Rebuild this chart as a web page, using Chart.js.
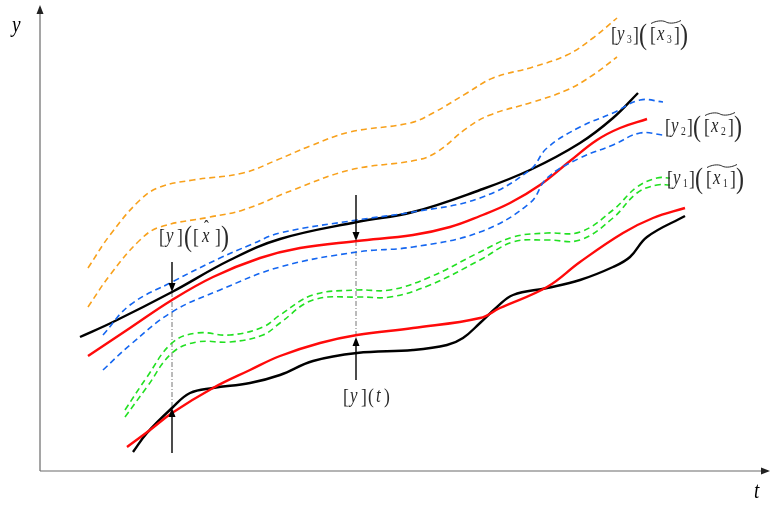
<!DOCTYPE html>
<html>
<head>
<meta charset="utf-8">
<script src="https://cdn.jsdelivr.net/npm/chart.js@4/dist/chart.umd.min.js"></script>
<style>
  html, body { margin: 0; padding: 0; background: #fff; }
  #wrap { width: 771px; height: 506px; position: relative; }
</style>
</head>
<body>
<div id="wrap"><canvas id="chart"></canvas></div>
<script>
// curve samples (t, y)
const tOrangeHi = [48, 70, 100, 120, 153, 203, 237, 270, 310, 370, 393, 427, 453, 493, 527, 553, 577];
const yOrangeHi = [203, 236, 271, 284, 291, 298, 311, 325, 339, 348, 358, 378, 393, 404, 416, 433, 453];
const tOrangeLo = [48, 70, 100, 120, 170, 203, 253, 310, 377, 397, 427, 450, 493, 527, 553, 577];
const yOrangeLo = [164, 196, 231, 244, 254, 261, 281, 301, 311, 319, 343, 356, 369, 381, 396, 414];

const tBlueHi = [63, 90, 132, 180, 210, 240, 317, 373, 440, 490, 507, 540, 573, 600, 623];
const yBlueHi = [136, 166, 189, 213, 226, 238, 251, 259, 273, 301, 323, 344, 358, 371, 369];
const tBlueLo = [63, 90, 132, 180, 240, 317, 373, 440, 490, 507, 540, 573, 600, 623];
const yBlueLo = [101, 126, 159, 181, 204, 219, 224, 239, 268, 293, 313, 326, 338, 336];

const tBlackHi = [40, 73, 132, 190, 240, 317, 373, 440, 490, 540, 573, 598];
const yBlackHi = [134, 149, 179, 211, 232, 249, 259, 281, 301, 328, 353, 378];
const tRedHi = [48, 90, 132, 173, 220, 260, 317, 373, 410, 440, 470, 500, 530, 557, 580, 607];
const yRedHi = [115, 143, 171, 194, 213, 223, 230, 236, 244, 255, 268, 286, 310, 331, 343, 352];

const tGreen = [85, 107, 132, 157, 190, 223, 240, 273, 317, 350, 390, 440, 473, 507, 540, 573, 597, 617, 630];
const yGreenHi = [61, 94, 128, 138, 136, 144, 156, 176, 181, 181, 194, 219, 234, 238, 239, 261, 284, 293, 293];
const yGreenLo = [54, 84, 118, 129, 129, 136, 148, 171, 174, 174, 186, 211, 229, 231, 231, 253, 278, 286, 286];

const tRedLo = [87, 110, 132, 173, 210, 240, 280, 317, 373, 440, 460, 507, 540, 583, 613, 645];
const yRedLo = [24, 41, 58, 83, 101, 115, 128, 136, 143, 153, 163, 184, 209, 238, 253, 263];
const tBlackLo = [93, 107, 132, 150, 173, 210, 240, 273, 317, 373, 407, 423, 440, 457, 473, 507, 540, 573, 590, 607, 645];
const yBlackLo = [19, 38, 63, 78, 83, 88, 96, 110, 118, 121, 126, 133, 148, 164, 176, 183, 191, 204, 214, 234, 255];

// guide marks: t position, top arrow start/tip, bottom arrow start/tip
const markT = [132, 316];
const markTopFrom = [209, 276];
const markTopTip = [179, 230];
const markLowFrom = [18, 91];
const markLowTip = [63, 134];

function pts(ts, ys) { return ts.map((t, i) => ({ x: t, y: ys[i] })); }

function curve(ts, ys, color, dashed) {
  return {
    data: pts(ts, ys),
    showLine: true,
    borderColor: color,
    borderWidth: dashed ? 1.6 : 2.4,
    borderDash: dashed ? [6, 4] : [],
    pointRadius: 0,
    tension: 0.4,
    fill: false
  };
}

const ORANGE = '#f8a11c', BLUE = '#1466f0', GREEN = '#22e022', RED = '#ff0a0a', BLACK = '#000';
const SERIF = '"Liberation Serif", "Times New Roman", "DejaVu Serif", serif';

function arrowHead(ctx, x, y, dir) {
  // dir: -1 pointing up, 1 pointing down
  ctx.beginPath();
  ctx.moveTo(x, y);
  ctx.lineTo(x - 3.5, y - dir * 9);
  ctx.lineTo(x + 3.5, y - dir * 9);
  ctx.closePath();
  ctx.fill();
}

function glyph(ctx, s, x, base, size, italic) {
  ctx.save();
  ctx.font = (italic ? 'italic ' : '') + size + 'px ' + SERIF;
  ctx.translate(x, base);
  ctx.scale(0.8, 1);
  ctx.textBaseline = 'alphabetic';
  ctx.fillText(s, 0, 0);
  ctx.restore();
}

function tilde(ctx, x1, x2, y) {
  const w = x2 - x1;
  ctx.beginPath();
  ctx.moveTo(x1, y + 1.5);
  ctx.bezierCurveTo(x1 + w * 0.25, y - 2.5, x1 + w * 0.45, y - 1, x1 + w * 0.5, y);
  ctx.bezierCurveTo(x1 + w * 0.55, y + 1, x1 + w * 0.75, y + 2.5, x2, y - 1.5);
  ctx.stroke();
}

// bracket label [y_k]([x_k]~)
function intervalLabel(ctx, x, base, k) {
  glyph(ctx, '[', x, base, 22, false);
  glyph(ctx, 'y', x + 6, base - 1, 21, true);
  glyph(ctx, k, x + 16, base + 2, 12, false);
  glyph(ctx, ']', x + 22, base, 22, false);
  glyph(ctx, '(', x + 28, base + 3, 30, false);
  glyph(ctx, '[', x + 39, base, 22, false);
  glyph(ctx, 'x', x + 46, base - 1, 21, true);
  glyph(ctx, k, x + 56, base + 2, 12, false);
  glyph(ctx, ']', x + 63, base, 22, false);
  glyph(ctx, ')', x + 69, base + 3, 30, false);
  tilde(ctx, x + 40, x + 70, base - 19);
}

const overlay = {
  id: 'overlay',
  beforeDatasetsDraw(chart) {
    const ctx = chart.ctx, xs = chart.scales.x, ys = chart.scales.y;
    const x0 = xs.getPixelForValue(0), y0 = ys.getPixelForValue(0);
    const xe = xs.getPixelForValue(xs.max), ye = ys.getPixelForValue(ys.max);
    ctx.save();
    ctx.strokeStyle = '#6a6a6a';
    ctx.fillStyle = '#222';
    ctx.lineWidth = 1.2;
    ctx.beginPath();
    ctx.moveTo(x0, y0); ctx.lineTo(xe - 2, y0);
    ctx.moveTo(x0, y0); ctx.lineTo(x0, ye + 2);
    ctx.stroke();
    arrowHead(ctx, x0, ye, -1);
    ctx.beginPath();
    ctx.moveTo(xe, y0); ctx.lineTo(xe - 9, y0 - 3.5); ctx.lineTo(xe - 9, y0 + 3.5); ctx.closePath();
    ctx.fill();
    // dash-dot guides
    ctx.strokeStyle = '#777';
    ctx.lineWidth = 1;
    ctx.setLineDash([5, 2, 1, 2]);
    markT.forEach((t, i) => {
      const px = xs.getPixelForValue(t);
      ctx.beginPath();
      ctx.moveTo(px, ys.getPixelForValue(markTopTip[i]));
      ctx.lineTo(px, ys.getPixelForValue(markLowTip[i]));
      ctx.stroke();
    });
    ctx.restore();
  },
  afterDatasetsDraw(chart) {
    const ctx = chart.ctx, xs = chart.scales.x, ys = chart.scales.y;
    ctx.save();
    ctx.strokeStyle = '#000';
    ctx.fillStyle = '#000';
    ctx.lineWidth = 1.4;
    markT.forEach((t, i) => {
      const px = xs.getPixelForValue(t);
      const a = ys.getPixelForValue(markTopFrom[i]), b = ys.getPixelForValue(markTopTip[i]);
      const c = ys.getPixelForValue(markLowFrom[i]), d = ys.getPixelForValue(markLowTip[i]);
      ctx.beginPath();
      ctx.moveTo(px, a); ctx.lineTo(px, b - 6);
      ctx.moveTo(px, c); ctx.lineTo(px, d + 6);
      ctx.stroke();
      arrowHead(ctx, px, b, 1);
      arrowHead(ctx, px, d, -1);
    });

    ctx.fillStyle = '#2a2a2a';
    ctx.strokeStyle = '#2a2a2a';
    ctx.lineWidth = 1;
    intervalLabel(ctx, 611, 41, '3');
    intervalLabel(ctx, 665, 133, '2');
    intervalLabel(ctx, 667, 185, '1');

    // [y]([x^])
    let x = 159, base = 243;
    glyph(ctx, '[', x, base, 22, false);
    glyph(ctx, 'y', x + 7, base - 1, 21, true);
    glyph(ctx, ']', x + 18, base, 22, false);
    glyph(ctx, '(', x + 25, base + 3, 30, false);
    glyph(ctx, '[', x + 34, base, 22, false);
    glyph(ctx, 'x', x + 43, base - 1, 21, true);
    glyph(ctx, 'ˆ', x + 45, base - 10, 18, false);
    glyph(ctx, ']', x + 56, base, 22, false);
    glyph(ctx, ')', x + 62, base + 3, 30, false);

    // [y](t)
    x = 343; base = 403;
    glyph(ctx, '[', x, base, 22, false);
    glyph(ctx, 'y', x + 7, base - 1, 21, true);
    glyph(ctx, ']', x + 18, base, 22, false);
    glyph(ctx, '(', x + 25, base, 22, false);
    glyph(ctx, 't', x + 33, base - 1, 21, true);
    glyph(ctx, ')', x + 41, base, 22, false);

    // axis names
    ctx.fillStyle = '#000';
    glyph(ctx, 'y', 12, 32, 24, true);
    glyph(ctx, 't', 754, 498, 24, true);
    ctx.restore();
  }
};

new Chart(document.getElementById('chart'), {
  type: 'scatter',
  data: {
    datasets: [
      curve(tOrangeHi, yOrangeHi, ORANGE, true),
      curve(tOrangeLo, yOrangeLo, ORANGE, true),
      curve(tBlueHi, yBlueHi, BLUE, true),
      curve(tBlueLo, yBlueLo, BLUE, true),
      curve(tGreen, yGreenHi, GREEN, true),
      curve(tGreen, yGreenLo, GREEN, true),
      curve(tRedHi, yRedHi, RED, false),
      curve(tBlackHi, yBlackHi, BLACK, false),
      curve(tRedLo, yRedLo, RED, false),
      curve(tBlackLo, yBlackLo, BLACK, false)
    ]
  },
  options: {
    responsive: true,
    maintainAspectRatio: false,
    animation: false,
    layout: { padding: { left: 40, right: 1, top: 5, bottom: 35 } },
    scales: {
      x: { type: 'linear', min: 0, max: 730, display: false },
      y: { type: 'linear', min: 0, max: 466, display: false }
    },
    plugins: { legend: { display: false }, tooltip: { enabled: false } }
  },
  plugins: [overlay]
});
</script>
</body>
</html>
